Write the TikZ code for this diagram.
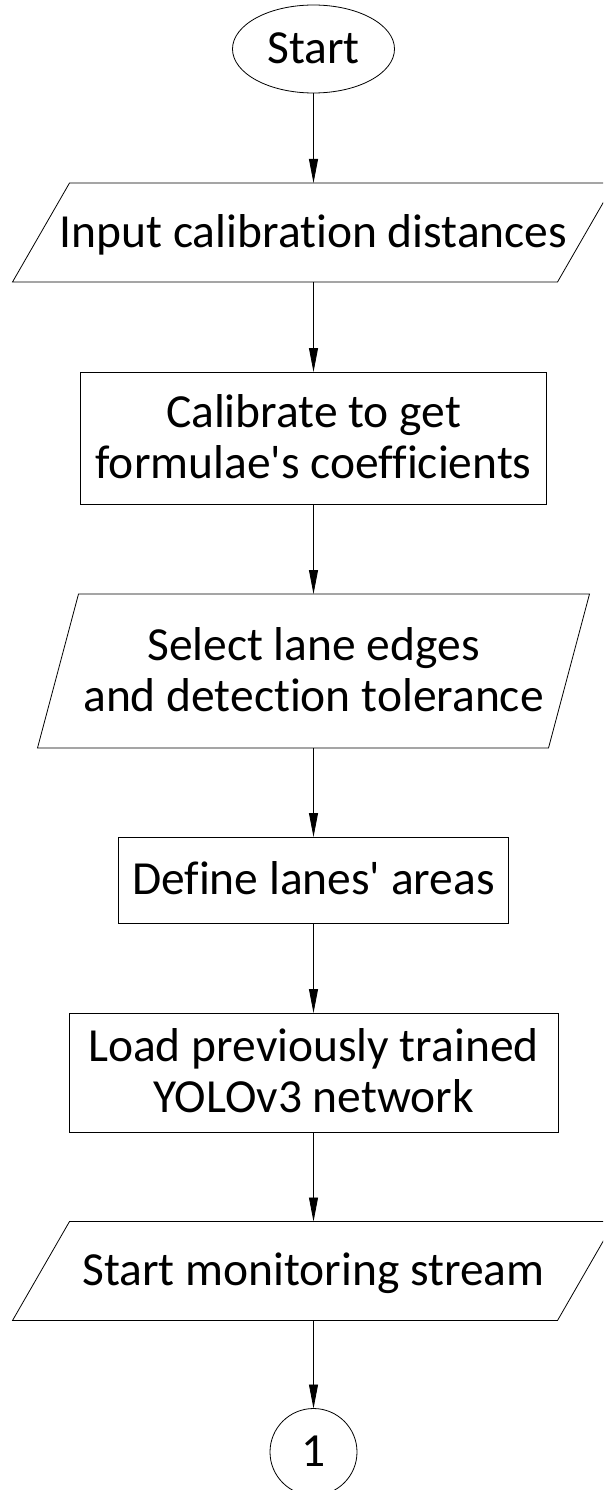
\documentclass[tikz,border=0pt]{standalone}
\usepackage{fontspec}
\setmainfont{Carlito}[Ligatures={NoCommon}]
\usetikzlibrary{arrows.meta,shapes.geometric}
\newcommand{\paraframe}[2]{\draw ([xshift=#2]#1.north west) -- ([xshift=#2]#1.north east) -- ([xshift=-#2]#1.south east) -- ([xshift=-#2]#1.south west) -- cycle;}
\begin{document}
\begin{tikzpicture}[x=1pt,y=1pt,
  line width=0.8pt,
  every node/.style={font=\fontsize{47.5}{51}\selectfont, inner sep=0pt, outer sep=0pt, align=center, text height=29.5pt, text depth=0pt},
  twoline/.style={text height=80.5pt, text depth=0pt},
  box/.style={draw, rectangle},
  io/.style={rectangle},
  term/.style={draw, ellipse},
  conn/.style={draw, circle},
  arr/.style={-{Triangle[length=24pt,width=9pt]}}
]
\useasboundingbox (0,0) rectangle (603,-1490);
\clip (0,0) rectangle (603,-1490);
\node[term, minimum width=162pt, minimum height=88pt] (start) at (313.5,-49) {Start};
\node[io, minimum width=545pt, minimum height=99pt] (in1) at (313.5,-232.5) {Input calibration distances};
\paraframe{in1}{28.5pt}
\node[box, twoline, minimum width=466pt, minimum height=132pt] (cal) at (313.5,-438) {Calibrate to get\\formulae\textquotesingle s coefficients};
\node[io, twoline, minimum width=511pt, minimum height=154pt] (sel) at (313.5,-671) {Select lane edges\\and detection tolerance};
\paraframe{sel}{20.5pt}
\node[box, minimum width=390pt, minimum height=86pt] (def) at (313.5,-880) {Define lanes\textquotesingle\ areas};
\node[box, twoline, minimum width=489pt, minimum height=119pt] (load) at (313.5,-1072.5) {Load previously trained\\YOLOv3 network};
\node[io, minimum width=545pt, minimum height=99pt] (mon) at (313.5,-1271) {Start monitoring stream};
\paraframe{mon}{28.5pt}
\node[conn, minimum size=87pt] (c1) at (313.5,-1452) {1};
\draw[arr] (start) -- (in1);
\draw[arr] (in1) -- (cal);
\draw[arr] (cal) -- (sel);
\draw[arr] (sel) -- (def);
\draw[arr] (def) -- (load);
\draw[arr] (load) -- (mon);
\draw[arr] (mon) -- (c1);
\end{tikzpicture}
\end{document}
